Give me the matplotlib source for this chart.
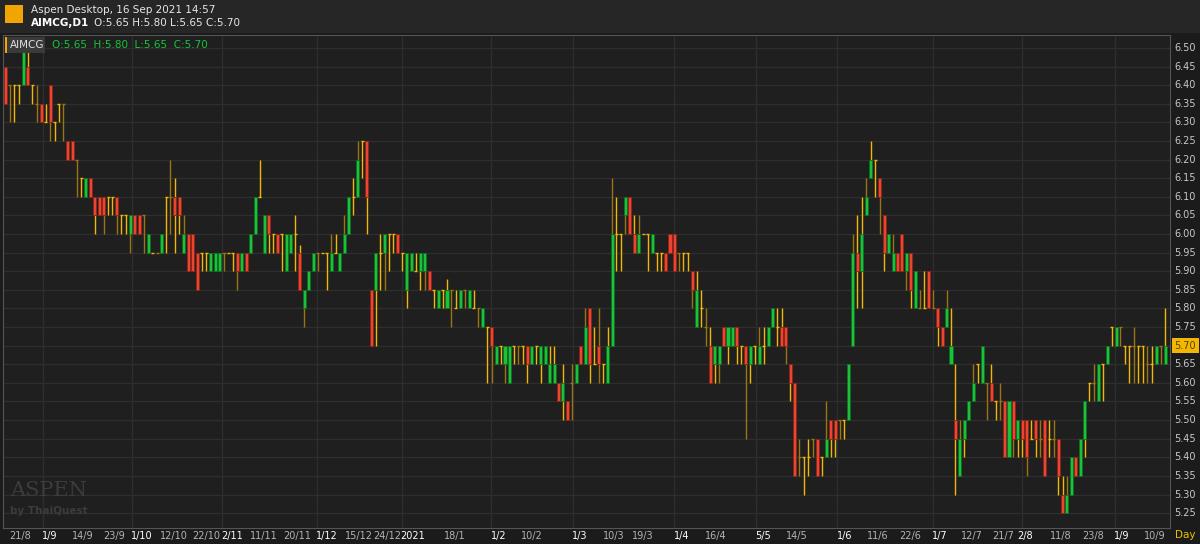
import matplotlib.pyplot as plt
from matplotlib.patches import Rectangle

# daily candles AIMCG, 21/8/2020 .. 16/9/2021
opens = [6.45, 6.40, 6.40, 6.40, 6.40, 6.45, 6.40, 6.35, 6.35, 6.30, 6.40, 6.30, 6.35, 6.35, 6.25, 6.25, 6.20, 6.15, 6.10, 6.15,
         6.10, 6.10, 6.10, 6.10, 6.10, 6.10, 6.05, 6.05, 6.00, 6.05, 6.05, 6.05, 5.95, 5.95, 5.95, 5.95, 6.10, 6.10, 6.10, 6.10,
         5.95, 6.00, 6.00, 5.95, 5.95, 5.95, 5.90, 5.90, 5.90, 5.95, 5.95, 5.95, 5.95, 5.90, 5.95, 5.95, 6.00, 6.10, 5.95, 6.05,
         6.00, 6.00, 6.00, 5.90, 5.95, 6.00, 5.95, 5.80, 5.85, 5.90, 5.95, 5.95, 5.95, 5.90, 5.95, 5.90, 5.95, 6.00, 6.10, 6.10,
         6.25, 6.25, 5.85, 5.85, 5.95, 5.95, 6.00, 6.00, 6.00, 5.95, 5.85, 5.90, 5.90, 5.90, 5.90, 5.90, 5.85, 5.80, 5.85, 5.80,
         5.85, 5.80, 5.80, 5.85, 5.80, 5.80, 5.80, 5.75, 5.75, 5.75, 5.65, 5.70, 5.65, 5.60, 5.70, 5.70, 5.70, 5.70, 5.65, 5.70,
         5.65, 5.65, 5.60, 5.60, 5.60, 5.55, 5.55, 5.60, 5.60, 5.70, 5.65, 5.80, 5.65, 5.70, 5.65, 5.60, 5.70, 6.00, 6.00, 6.05,
         6.10, 6.00, 5.95, 6.00, 6.00, 5.95, 5.95, 5.95, 5.95, 6.00, 6.00, 5.95, 5.95, 5.95, 5.90, 5.75, 5.80, 5.75, 5.70, 5.65,
         5.65, 5.75, 5.70, 5.70, 5.75, 5.70, 5.70, 5.65, 5.70, 5.65, 5.70, 5.70, 5.75, 5.75, 5.75, 5.75, 5.65, 5.60, 5.40, 5.40,
         5.40, 5.45, 5.45, 5.40, 5.40, 5.50, 5.50, 5.50, 5.50, 5.50, 5.70, 5.95, 5.90, 6.05, 6.15, 6.20, 6.15, 6.05, 5.95, 5.90,
         5.95, 6.00, 5.90, 5.95, 5.80, 5.80, 5.80, 5.90, 5.80, 5.80, 5.75, 5.75, 5.65, 5.50, 5.35, 5.45, 5.50, 5.55, 5.65, 5.60,
         5.60, 5.60, 5.55, 5.55, 5.55, 5.40, 5.55, 5.45, 5.50, 5.50, 5.45, 5.50, 5.45, 5.50, 5.45, 5.45, 5.45, 5.30, 5.25, 5.30,
         5.40, 5.35, 5.45, 5.60, 5.60, 5.55, 5.65, 5.65, 5.75, 5.70, 5.75, 5.70, 5.70, 5.70, 5.70, 5.70, 5.65, 5.65, 5.65, 5.70,
         5.65]
highs = [6.45, 6.40, 6.40, 6.40, 6.52, 6.50, 6.40, 6.40, 6.35, 6.35, 6.40, 6.30, 6.35, 6.35, 6.25, 6.25, 6.20, 6.15, 6.15, 6.15,
         6.10, 6.10, 6.10, 6.10, 6.10, 6.10, 6.05, 6.05, 6.05, 6.05, 6.05, 6.05, 6.00, 5.95, 5.95, 6.00, 6.10, 6.20, 6.15, 6.10,
         6.05, 6.00, 6.00, 5.95, 5.95, 5.95, 5.95, 5.95, 5.95, 5.95, 5.95, 5.95, 5.95, 5.95, 5.95, 6.00, 6.10, 6.20, 6.05, 6.05,
         6.00, 6.00, 6.00, 6.00, 6.00, 6.05, 5.97, 5.85, 5.90, 5.95, 5.95, 5.95, 5.95, 6.00, 6.00, 5.95, 6.05, 6.10, 6.15, 6.25,
         6.25, 6.25, 5.85, 5.95, 6.00, 6.00, 6.00, 6.00, 6.00, 5.95, 5.95, 5.95, 5.95, 5.95, 5.95, 5.90, 5.85, 5.85, 5.85, 5.88,
         5.85, 5.85, 5.85, 5.85, 5.85, 5.85, 5.80, 5.80, 5.75, 5.75, 5.70, 5.70, 5.70, 5.70, 5.70, 5.70, 5.70, 5.70, 5.70, 5.70,
         5.70, 5.70, 5.70, 5.70, 5.60, 5.65, 5.55, 5.65, 5.65, 5.70, 5.80, 5.80, 5.75, 5.80, 5.65, 5.75, 6.15, 6.10, 6.00, 6.10,
         6.10, 6.05, 6.05, 6.00, 6.00, 6.00, 5.95, 5.95, 5.95, 6.00, 6.00, 5.95, 5.95, 5.95, 5.90, 5.90, 5.85, 5.80, 5.75, 5.70,
         5.70, 5.75, 5.75, 5.75, 5.75, 5.70, 5.70, 5.70, 5.70, 5.75, 5.75, 5.75, 5.80, 5.80, 5.80, 5.75, 5.65, 5.60, 5.45, 5.40,
         5.45, 5.45, 5.45, 5.40, 5.55, 5.50, 5.50, 5.50, 5.50, 5.65, 6.00, 6.05, 6.10, 6.15, 6.25, 6.20, 6.15, 6.05, 6.00, 6.00,
         5.95, 6.00, 5.95, 5.95, 5.90, 5.85, 5.90, 5.90, 5.85, 5.80, 5.75, 5.85, 5.80, 5.65, 5.50, 5.50, 5.55, 5.65, 5.65, 5.70,
         5.60, 5.65, 5.55, 5.60, 5.55, 5.55, 5.55, 5.50, 5.50, 5.50, 5.50, 5.50, 5.50, 5.50, 5.50, 5.50, 5.45, 5.35, 5.35, 5.40,
         5.40, 5.45, 5.55, 5.60, 5.65, 5.65, 5.65, 5.70, 5.75, 5.75, 5.75, 5.70, 5.70, 5.75, 5.70, 5.70, 5.70, 5.70, 5.70, 5.70,
         5.80]
lows = [6.35, 6.30, 6.30, 6.35, 6.40, 6.40, 6.35, 6.30, 6.30, 6.30, 6.25, 6.25, 6.30, 6.25, 6.20, 6.20, 6.10, 6.10, 6.10, 6.10,
        6.00, 6.05, 6.00, 6.05, 6.05, 6.00, 6.00, 6.00, 5.95, 6.00, 6.00, 5.95, 5.95, 5.95, 5.95, 5.95, 5.95, 6.00, 5.95, 6.00,
        5.95, 5.90, 5.90, 5.85, 5.90, 5.90, 5.90, 5.90, 5.90, 5.90, 5.95, 5.90, 5.85, 5.90, 5.90, 5.95, 6.00, 6.10, 5.95, 5.95,
        5.95, 5.95, 5.90, 5.90, 5.95, 5.90, 5.85, 5.75, 5.85, 5.90, 5.90, 5.95, 5.85, 5.90, 5.95, 5.90, 5.95, 6.00, 6.05, 6.10,
        6.15, 6.00, 5.70, 5.70, 5.85, 5.85, 5.90, 5.95, 5.95, 5.90, 5.80, 5.90, 5.90, 5.85, 5.85, 5.85, 5.80, 5.80, 5.80, 5.80,
        5.75, 5.80, 5.80, 5.80, 5.80, 5.80, 5.75, 5.75, 5.60, 5.60, 5.65, 5.65, 5.60, 5.60, 5.65, 5.65, 5.65, 5.60, 5.65, 5.65,
        5.60, 5.65, 5.60, 5.60, 5.55, 5.50, 5.50, 5.50, 5.60, 5.65, 5.65, 5.60, 5.65, 5.60, 5.60, 5.60, 5.70, 5.90, 5.90, 6.00,
        6.00, 5.95, 5.95, 6.00, 5.90, 5.95, 5.90, 5.90, 5.90, 5.95, 5.90, 5.90, 5.90, 5.90, 5.80, 5.75, 5.75, 5.70, 5.60, 5.60,
        5.60, 5.70, 5.65, 5.70, 5.65, 5.65, 5.45, 5.60, 5.65, 5.65, 5.65, 5.70, 5.75, 5.70, 5.70, 5.65, 5.55, 5.35, 5.35, 5.30,
        5.35, 5.40, 5.35, 5.35, 5.40, 5.40, 5.40, 5.45, 5.45, 5.50, 5.70, 5.80, 5.80, 6.05, 6.15, 6.10, 6.00, 5.90, 5.95, 5.90,
        5.90, 5.90, 5.85, 5.80, 5.80, 5.80, 5.80, 5.80, 5.80, 5.70, 5.70, 5.75, 5.65, 5.30, 5.35, 5.40, 5.50, 5.55, 5.60, 5.60,
        5.50, 5.55, 5.50, 5.50, 5.40, 5.40, 5.40, 5.40, 5.40, 5.35, 5.45, 5.40, 5.40, 5.35, 5.40, 5.40, 5.30, 5.25, 5.25, 5.30,
        5.35, 5.35, 5.40, 5.55, 5.55, 5.55, 5.55, 5.65, 5.70, 5.70, 5.70, 5.65, 5.60, 5.60, 5.60, 5.60, 5.60, 5.60, 5.65, 5.65,
        5.65]
closes = [6.35, 6.40, 6.40, 6.40, 6.50, 6.40, 6.40, 6.35, 6.30, 6.30, 6.30, 6.30, 6.35, 6.35, 6.20, 6.20, 6.20, 6.15, 6.15, 6.10,
          6.05, 6.05, 6.05, 6.10, 6.10, 6.05, 6.05, 6.05, 6.05, 6.00, 6.00, 6.05, 6.00, 5.95, 5.95, 6.00, 6.10, 6.10, 6.05, 6.05,
          6.00, 5.90, 5.90, 5.85, 5.95, 5.95, 5.95, 5.95, 5.95, 5.95, 5.95, 5.95, 5.90, 5.95, 5.90, 6.00, 6.10, 6.10, 6.05, 6.00,
          6.00, 5.95, 6.00, 6.00, 6.00, 6.00, 5.85, 5.85, 5.90, 5.95, 5.95, 5.95, 5.95, 5.95, 5.95, 5.95, 6.00, 6.10, 6.10, 6.20,
          6.25, 6.10, 5.70, 5.95, 5.95, 6.00, 6.00, 6.00, 5.95, 5.95, 5.95, 5.95, 5.90, 5.95, 5.95, 5.85, 5.85, 5.85, 5.85, 5.85,
          5.85, 5.80, 5.85, 5.85, 5.85, 5.80, 5.80, 5.80, 5.75, 5.70, 5.70, 5.70, 5.70, 5.70, 5.70, 5.70, 5.70, 5.65, 5.70, 5.70,
          5.70, 5.70, 5.65, 5.65, 5.55, 5.60, 5.50, 5.60, 5.65, 5.65, 5.75, 5.65, 5.65, 5.65, 5.65, 5.70, 6.00, 6.00, 6.00, 6.10,
          6.00, 5.95, 6.00, 6.00, 6.00, 6.00, 5.95, 5.95, 5.90, 5.95, 5.90, 5.95, 5.95, 5.95, 5.85, 5.85, 5.80, 5.75, 5.60, 5.70,
          5.70, 5.70, 5.75, 5.75, 5.70, 5.70, 5.65, 5.70, 5.70, 5.70, 5.70, 5.75, 5.80, 5.75, 5.70, 5.70, 5.60, 5.35, 5.40, 5.40,
          5.40, 5.45, 5.35, 5.40, 5.45, 5.45, 5.45, 5.50, 5.50, 5.65, 5.95, 5.90, 6.00, 6.10, 6.20, 6.20, 6.10, 5.95, 6.00, 5.95,
          5.90, 5.90, 5.95, 5.85, 5.90, 5.80, 5.80, 5.80, 5.80, 5.75, 5.70, 5.80, 5.70, 5.45, 5.45, 5.50, 5.55, 5.60, 5.65, 5.70,
          5.60, 5.55, 5.55, 5.55, 5.40, 5.55, 5.45, 5.50, 5.45, 5.40, 5.45, 5.45, 5.45, 5.35, 5.45, 5.45, 5.35, 5.25, 5.30, 5.40,
          5.35, 5.45, 5.55, 5.60, 5.60, 5.65, 5.65, 5.70, 5.75, 5.75, 5.75, 5.70, 5.70, 5.70, 5.70, 5.70, 5.65, 5.65, 5.70, 5.70,
          5.70]

date_labels = ['21/8', '1/9', '14/9', '23/9', '1/10', '12/10', '22/10', '2/11', '11/11', '20/11', '1/12', '15/12', '24/12',
               '2021', '18/1', '1/2', '10/2', '1/3', '10/3', '19/3', '1/4', '16/4', '5/5', '14/5', '1/6', '11/6', '22/6',
               '1/7', '12/7', '21/7', '2/8', '11/8', '23/8', '1/9', '10/9']
date_pos = [3.3, 10, 17.4, 24.3, 30.6, 37.8, 45, 50.8, 58, 65.3, 72, 79.3, 85.5, 91.3, 100.8, 110.6, 118, 128.8, 136.4, 143,
            151.7, 159.3, 169.8, 177.5, 188.2, 195.6, 202.8, 209.5, 216.7, 223.7, 228.6, 236.5, 243.9, 250.3, 257.7]
bold_labels = {'1/9', '1/10', '2/11', '1/12', '2021', '1/2', '1/3', '1/4', '5/5', '1/6', '1/7', '2/8'}
month_lines = [8.4, 28.4, 48.5, 69.8, 89, 108.8, 127.3, 150, 168.3, 186.4, 208, 228, 248.7]
price_ticks = [5.25 + 0.05 * k for k in range(26)]

BG = '#1f1f1f'
GRID = '#2e2e2e'
GREEN = '#19c23a'
RED = '#ec4430'
GOLD = '#f2b705'
DIM = '#9b7416'
Y0, Y1 = 5.21, 6.535

fig = plt.figure(figsize=(12, 5.44), dpi=100, facecolor='#1b1b1b')
fig.patches.append(Rectangle((0, 1 - 33 / 544), 1, 33 / 544, transform=fig.transFigure,
                             facecolor='#262626', edgecolor='none', zorder=-1))
ax = fig.add_axes([3 / 1200, 16 / 544, 1167 / 1200, 493 / 544])
ax.set_facecolor(BG)
n = len(closes)
ax.set_xlim(-0.55, 261.1)
ax.set_ylim(Y0, Y1)

for p in price_ticks:
    ax.axhline(p, color=GRID, lw=1, zorder=0)
for m in month_lines:
    ax.axvline(m, color=GRID, lw=1, zorder=0)

w = 0.68
for i in range(n):
    o, h, l, c = opens[i], highs[i], lows[i], closes[i]
    wick = GOLD if i % 3 != 1 else DIM
    ax.vlines(i, l, h, color=wick, lw=1, zorder=2)
    if abs(c - o) < 1e-9:
        ax.hlines(c, i - w / 2, i + w / 2, color=wick, lw=1, zorder=3)
    else:
        col = GREEN if c > o else RED
        edge = '#0e6e20' if c > o else '#8a2418'
        ax.add_patch(Rectangle((i - w / 2, min(o, c)), w, abs(c - o), facecolor=col,
                               edgecolor=edge, lw=0.6, zorder=4))

ax.set_xticks([])
ax.set_yticks([])
for s in ax.spines.values():
    s.set_color('#555555')

# right price axis
for p in price_ticks:
    if abs(p - 5.70) < 1e-6:
        continue
    ax.text(1.004, (p - Y0) / (Y1 - Y0), f'{p:.2f}', transform=ax.transAxes,
            color='#c8c8c8', fontsize=7, va='center', ha='left')
ax.text(1.004, (5.70 - Y0) / (Y1 - Y0), '5.70', transform=ax.transAxes, color='#5a4200',
        fontsize=7, va='center', ha='left',
        bbox=dict(boxstyle='square,pad=0.25', facecolor=GOLD, edgecolor='none'))

# bottom date axis
for lab, pos in zip(date_labels, date_pos):
    ax.text(pos, -0.016, lab, color='#ffffff' if lab in bold_labels else '#b4b4b4',
            fontsize=7, ha='center', va='center', clip_on=False,
            transform=ax.get_xaxis_transform())
fig.text(1185 / 1200, 1 - 535 / 544, 'Day', color='#e8c200', fontsize=7.5, ha='center', va='center')

# header
fig.patches.append(Rectangle((5 / 1200, 1 - 23 / 544), 18 / 1200, 18 / 544, transform=fig.transFigure,
                             facecolor='#f0a500', edgecolor='none'))
fig.text(31 / 1200, 1 - 10 / 544, 'Aspen Desktop, 16 Sep 2021 14:57', color='#e6e6e6', fontsize=7.5, va='center')
fig.text(31 / 1200, 1 - 23 / 544, 'AIMCG,D1', color='#ffffff', fontsize=7.5, va='center', weight='bold')
fig.text(94 / 1200, 1 - 23 / 544, 'O:5.65 H:5.80 L:5.65 C:5.70', color='#e6e6e6', fontsize=7.5, va='center')

# symbol tag inside chart
fig.patches.append(Rectangle((5 / 1200, 1 - 53 / 544), 40 / 1200, 16 / 544, transform=fig.transFigure,
                             facecolor='#3a3a3a', edgecolor='none'))
fig.patches.append(Rectangle((5 / 1200, 1 - 53 / 544), 2 / 1200, 16 / 544, transform=fig.transFigure,
                             facecolor='#f0a500', edgecolor='none'))
fig.text(10 / 1200, 1 - 45 / 544, 'AIMCG', color='#e0e0e0', fontsize=7.5, va='center')
fig.text(52 / 1200, 1 - 45 / 544, 'O:5.65  H:5.80  L:5.65  C:5.70', color='#17c43a', fontsize=7.5, va='center')

# watermark
fig.text(10 / 1200, 1 - 490 / 544, 'ASPEN', color='#3c3c3c', fontsize=15, family='DejaVu Serif', va='center')
fig.text(10 / 1200, 1 - 511 / 544, 'by ThaiQuest', color='#3c3c3c', fontsize=7.5, weight='bold', va='center')

fig.savefig('out.png', dpi=100, facecolor=fig.get_facecolor())
